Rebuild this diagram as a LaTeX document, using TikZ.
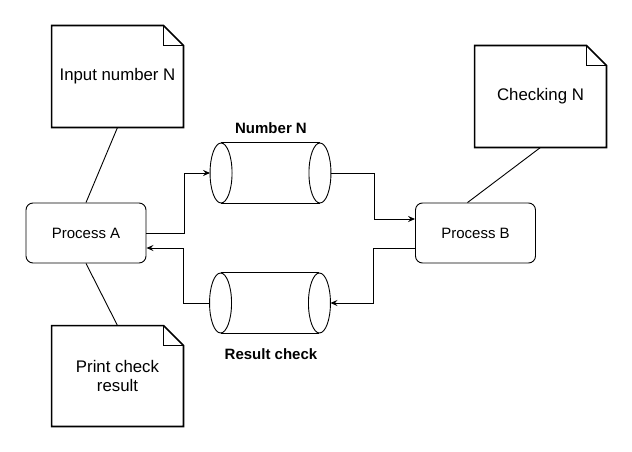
\documentclass[tikz,border=0pt]{standalone}
\usepackage{fontspec}
\setmainfont{Liberation Sans}
\usetikzlibrary{arrows.meta}

\tikzset{
  notebox/.style={minimum width=131, minimum height=101, inner sep=0, align=center, font=\fontsize{16.8}{19.5}\selectfont},
  procbox/.style={draw, rounded corners=7, minimum width=120, minimum height=60, inner sep=0, font=\fontsize{15}{18}\selectfont},
  storebox/.style={minimum width=120, minimum height=60, inner sep=0},
  storelabel/.style={font=\fontsize{15}{18}\selectfont\bfseries},
  flow/.style={-{Stealth[length=7pt,width=6pt,inset=2.5pt]}},
}

\begin{document}
\begin{tikzpicture}[x=1pt, y=-1pt, line width=0.9pt]
\useasboundingbox (0,0) rectangle (632,452);

\node (noteIn) [notebox] at (117.5,76.5) {Input number N};
\node (noteChk) [notebox] at (540.5,96.5) {Checking N};
\node (notePr) [notebox, minimum height=100] at (117.5,376) {Print check\\result};

\node (procA) [procbox] at (86,233) {Process A};
\node (procB) [procbox] at (475.5,233) {Process B};

\node (numN) [storebox] at (270.5,173) {};
\node (resChk) [storebox] at (270,303) {};
\node (lblN) [storelabel] at (271,128) {Number N};
\node (lblRes) [storelabel] at (271,354) {Result check};

% notes with folded corner
\foreach \n in {noteIn, noteChk, notePr} {
  \draw[line width=1.6pt] (\n.north west) -- ([xshift=-20]\n.north east) -- ([yshift=-20]\n.north east)
    -- (\n.south east) -- (\n.south west) -- cycle;
  \draw[line width=1.3pt] ([xshift=-20]\n.north east) -- ++(0,20) -- ([yshift=-20]\n.north east);
}

% data stores
\foreach \s in {numN, resChk} {
  \draw ([xshift=11]\s.north west) -- ([xshift=-11]\s.north east);
  \draw ([xshift=11]\s.south west) -- ([xshift=-11]\s.south east);
  \draw ([xshift=11]\s.west) ellipse [x radius=11, y radius=30];
  \draw ([xshift=-11]\s.east) ellipse [x radius=11, y radius=30];
}

% note links
\draw (noteIn.south) -- (procA.north);
\draw (notePr.north) -- (procA.south);
\draw (noteChk.south) -- ([xshift=-8]procB.north);

% data flows
\draw[flow] (procA.east) -- ++(38,0) |- (numN.west);
\draw[flow] (numN.east) -- ++(43,0) |- ([yshift=14]procB.west);
\draw[flow] ([yshift=-15]procB.west) -- ++(-42,0) |- (resChk.east);
\draw[flow] (resChk.west) -- ++(-26,0) |- ([yshift=-15]procA.east);
\end{tikzpicture}
\end{document}
